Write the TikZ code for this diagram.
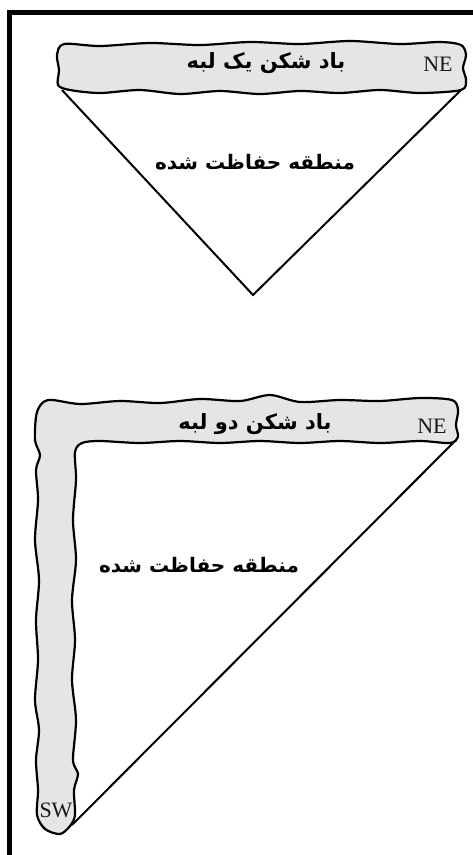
\documentclass[tikz,border=0pt]{standalone}
\usepackage{fontspec}
\TeXXeTstate=1
\newfontfamily\arabicfont[Script=Arabic]{DejaVu Sans}
\newfontfamily\nefont{Liberation Serif}
\begin{document}
\begin{tikzpicture}[x=1pt,y=-1pt,
  band/.style={draw=black,line width=2.2pt,fill=black!10,line join=round},
  edgeline/.style={draw=black,line width=2pt},
  fa/.style={font=\arabicfont\bfseries\fontsize{21}{24}\selectfont,inner sep=0pt},
  zone/.style={font=\arabicfont\bfseries\fontsize{20}{24}\selectfont,inner sep=0pt},
  dir/.style={font=\nefont\fontsize{22}{24}\selectfont,inner sep=0pt,text=black!90}]
\useasboundingbox (0,0) rectangle (473,855);
% partial frame
\draw[line width=5pt] (9.5,857) -- (9.5,12.5) -- (475,12.5);
% band 1
\draw[band] plot[smooth cycle,tension=0.5] coordinates {
 (64,44) (100,46) (150,43) (200,45) (250,42) (300,44) (350,41) (400,44) (440,42) (461,45)
 (466,55) (463,68) (466,80) (461,90) (420,93) (380,90) (340,93) (300,91) (260,94)
 (220,91) (180,94) (140,90) (100,93) (70,90) (58,85) (59,70) (57,55)};
\coordinate (t1l) at (62,90);
\coordinate (t1r) at (461,90);
\coordinate (t1b) at (253,295);
\draw[edgeline,line join=miter] (t1l) -- (t1b) -- (t1r);
\node[fa] (lab1) at (266,63) {\beginR باد شکن یک لبه\endR};
\node[dir] (ne1) at (438,64) {NE};
\node[zone] (zone1) at (255,162) {\beginR منطقه حفاظت شده\endR};
% band 2
\draw[band] plot[smooth cycle,tension=0.5] coordinates {
 (48,400) (80,404) (120,401) (160,403) (200,399) (240,401) (270,395) (300,402) (340,400)
 (380,401) (420,398) (452,400) (458,410) (456,425) (458,437) (450,443)
 (420,441) (380,443) (340,441) (300,443) (260,441) (220,443) (180,441) (140,443)
 (100,441) (82,443) (75,452)
 (76,480) (73,520) (76,560) (72,600) (75,640) (72,680) (76,720) (73,760) (78,774)
 (74,790) (75,815) (70,826) (60,834) (45,829) (37,815)
 (38,790) (36,760) (39,730) (35,700) (38,660) (36,620) (39,580) (35,540) (38,500)
 (36,470) (40,455) (35,440) (37,412)};
\coordinate (t2r) at (454,442);
\coordinate (t2b) at (72,825);
\draw[edgeline] (t2r) -- (t2b);
\node[fa] (lab2) at (255,424) {\beginR باد شکن دو لبه\endR};
\node[dir] (ne2) at (432,426) {NE};
\node[dir] (sw) at (56,810) {SW};
\node[zone] (zone2) at (199,565) {\beginR منطقه حفاظت شده\endR};
\end{tikzpicture}
\end{document}
